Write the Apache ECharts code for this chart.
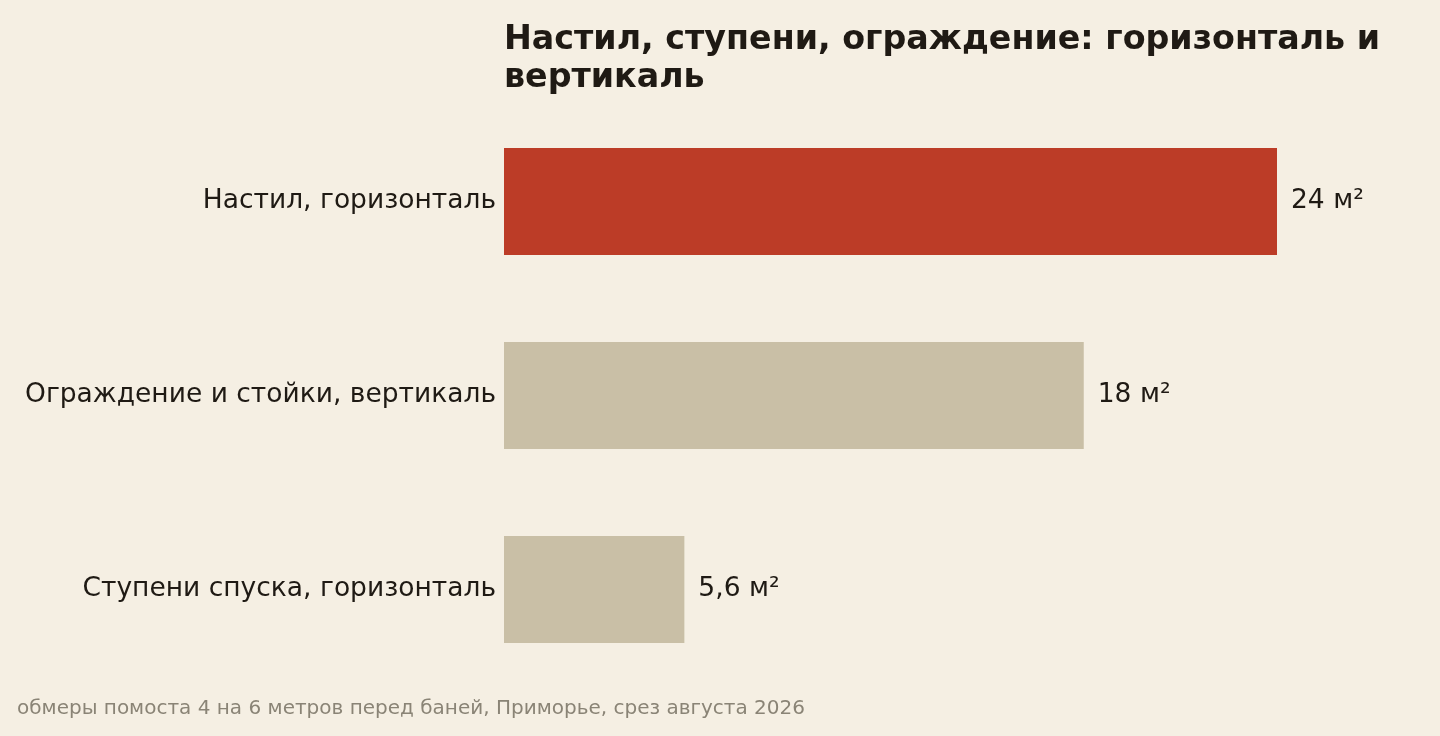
<!DOCTYPE html>
<html>
<head>
<meta charset="utf-8">
<script src="https://cdn.jsdelivr.net/npm/echarts@6/dist/echarts.min.js"></script>
<style>
  html, body { margin: 0; padding: 0; background: #f5efe3; }
  #chart { width: 1440px; height: 736px; }
</style>
</head>
<body>
<div id="chart"></div>
<script>
// данные — сверху вниз, как на картинке
const categories = ["Настил, горизонталь", "Ограждение и стойки, вертикаль", "Ступени спуска, горизонталь"];
const areas = [24, 18, 5.6];
const areaLabels = ["24 м²", "18 м²", "5,6 м²"];
const barColors = ["#bc3c27", "#c9bfa6", "#c9bfa6"];

const FONT = "DejaVu Sans";
const chart = echarts.init(document.getElementById("chart"), null, { renderer: "canvas" });

chart.setOption({
  backgroundColor: "#f5efe3",
  animation: false,
  title: {
    text: "Настил, ступени, ограждение: горизонталь и\nвертикаль",
    left: 499, top: 16,
    textStyle: { fontFamily: FONT, fontSize: 33.3, fontWeight: "bold", color: "#1f1a14", lineHeight: 38 },
  },
  graphic: [{
    type: "text", left: 17, top: 699,
    style: { text: "обмеры помоста 4 на 6 метров перед баней, Приморье, срез августа 2026",
             font: `20px "${FONT}"`, fill: "#8a8476" },
  }],
  grid: { left: 504, right: 163, top: 104.5, bottom: 49.5, containLabel: false },
  xAxis: { type: "value", min: 0, max: 24, show: false },
  yAxis: {
    type: "category", inverse: true, data: categories,
    axisLine: { show: false }, axisTick: { show: false },
    axisLabel: { fontFamily: FONT, fontSize: 26.5, color: "#1f1a14", margin: 8, padding: [8, 0, 0, 0] },
  },
  series: [{
    type: "bar", barWidth: 107,
    data: areas.map((v, i) => ({ value: v, itemStyle: { color: barColors[i] } })),
    label: {
      show: true, position: "right", distance: 14,
      fontFamily: FONT, fontSize: 26.5, color: "#1f1a14",
      formatter: (p) => areaLabels[p.dataIndex],
    },
  }],
});
</script>
</body>
</html>
